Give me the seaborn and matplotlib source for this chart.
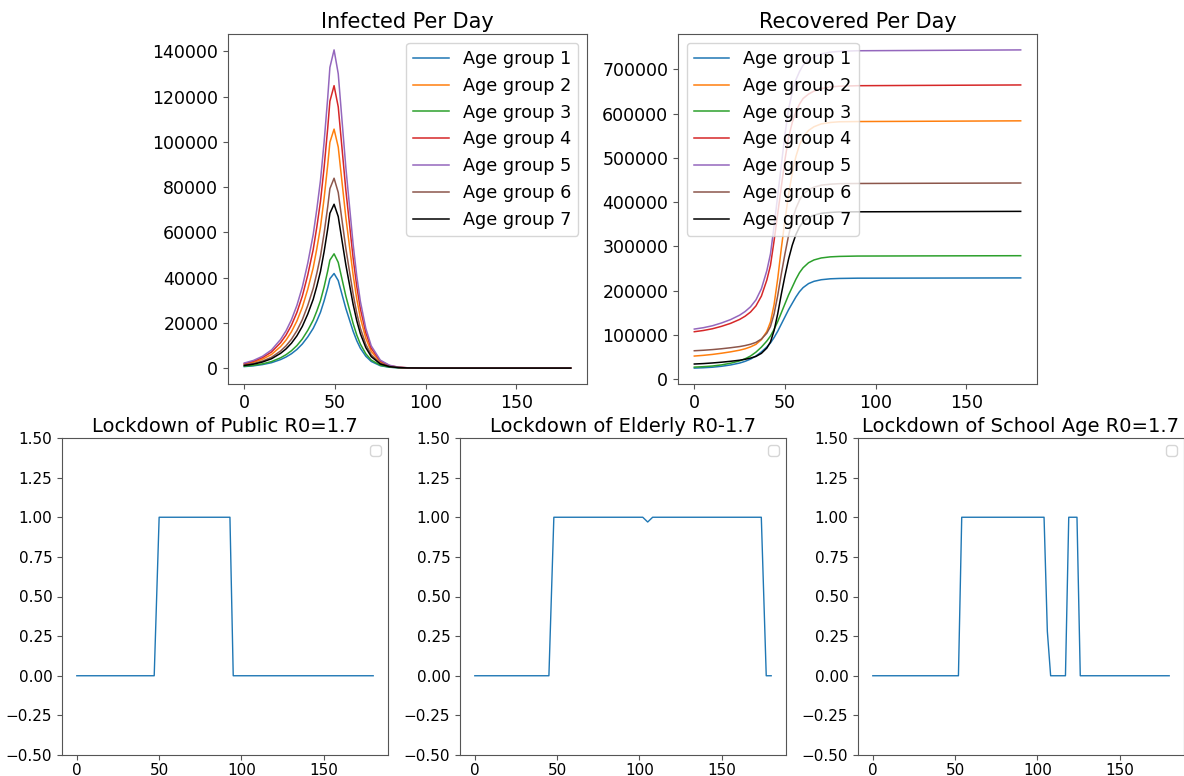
import matplotlib
matplotlib.use("Agg")
import matplotlib.pyplot as plt
import seaborn as sns

# ---------------- data ----------------
groups = ["Age group 1", "Age group 2", "Age group 3", "Age group 4",
          "Age group 5", "Age group 6", "Age group 7"]
colors = ["#1f77b4", "#ff7f0e", "#2ca02c", "#d62728", "#9467bd", "#8c564b", "black"]

inf_days = [0, 5, 10, 15, 20, 23, 26, 29, 32, 35, 38, 40, 42, 44, 46, 47.2, 49.5, 51.8,
            54, 56, 58, 60, 62, 64, 67, 70, 75, 80, 85, 90, 100, 120, 150, 180]
inf_g1 = [670, 1000, 1550, 2380, 3760, 4890, 6350, 8230, 10660, 13790, 17560, 20900, 24660,
          29680, 35530, 39500, 41800, 38670, 32190, 26330, 21320, 16300, 12120, 8780, 5230,
          2930, 1050, 380, 130, 40, 8, 0, 0, 0]
inf_g2 = [1690, 2530, 3910, 6020, 9500, 12360, 16050, 20800, 26930, 34850, 44350, 52800, 62300,
          74980, 89760, 99790, 105600, 97680, 81310, 66530, 53860, 41180, 30620, 22180, 13200,
          7390, 2640, 950, 320, 110, 20, 0, 0, 0]
inf_g3 = [810, 1210, 1870, 2880, 4550, 5910, 7680, 9950, 12880, 16670, 21210, 25250, 29800,
          35860, 42930, 47720, 50500, 46710, 38890, 31820, 25760, 19700, 14650, 10610, 6310,
          3540, 1260, 450, 150, 50, 10, 0, 0, 0]
inf_g4 = [2000, 3000, 4620, 7110, 11230, 14600, 18970, 24590, 31820, 41180, 52420, 62400, 73630,
          88610, 106080, 117940, 124800, 115440, 96100, 78620, 63650, 48670, 36190, 26210,
          15600, 8740, 3120, 1120, 370, 120, 25, 0, 0, 0]
inf_g5 = [2250, 3370, 5200, 8010, 12650, 16450, 21370, 27700, 35850, 46400, 59050, 70300, 82950,
          99830, 119510, 132870, 140600, 130060, 108260, 88580, 71710, 54830, 40770, 29530,
          17580, 9840, 3520, 1270, 420, 140, 30, 0, 0, 0]
inf_g6 = [1340, 2010, 3100, 4780, 7550, 9820, 12750, 16530, 21390, 27690, 35240, 41950, 49500,
          59570, 71320, 79290, 83900, 77610, 64600, 52860, 42790, 32720, 24330, 17620, 10490,
          5870, 2100, 760, 250, 80, 17, 0, 0, 0]
inf_g7 = [1160, 1740, 2680, 4130, 6520, 8470, 11000, 14260, 18460, 23890, 30410, 36200, 42720,
          51400, 61540, 68420, 72400, 66970, 55750, 45610, 36920, 28240, 21000, 15200, 9050,
          5070, 1810, 650, 220, 70, 14, 0, 0, 0]

rec_days = [0, 5, 10, 15, 20, 25, 28, 31, 34, 37, 40, 42, 44, 46, 48, 50, 52, 54, 56, 58,
            60, 63, 66, 70, 75, 80, 90, 120, 180]
rec_g1 = [24800, 25600, 26800, 28900, 31900, 36200, 40040, 45100, 52200, 61400, 72600, 81700,
          93900, 108100, 124400, 140600, 156900, 171100, 185300, 197500, 206700, 215800,
          220900, 224500, 226600, 227400, 228000, 228200, 228600]
rec_g2 = [52000, 53600, 55700, 58400, 61500, 65300, 68400, 72700, 78500, 89100, 107700,
          128900, 168600, 226900, 295800, 359400, 417700, 465400, 502500, 529000, 547600,
          561900, 570300, 576700, 579900, 581500, 582000, 582500, 583600]
rec_g3 = [27000, 28000, 29500, 32000, 35800, 41100, 45800, 52100, 60900, 72200, 86000, 97300,
          112300, 129900, 150000, 170100, 190200, 207700, 225300, 240400, 251600, 262900,
          269200, 273700, 276200, 277200, 278000, 278300, 278800]
rec_g4 = [107000, 109780, 113700, 119200, 125900, 134800, 142000, 151500, 165400, 187600,
          223800, 257100, 312700, 373900, 435000, 496200, 546200, 579600, 604600, 621300,
          634100, 644100, 650800, 656300, 660200, 661900, 663000, 663600, 664700]
rec_g5 = [113000, 116100, 120500, 126800, 134400, 144450, 152600, 163300, 179000, 204200,
          245100, 282800, 345700, 414900, 484100, 553300, 609900, 647700, 676000, 694800,
          709300, 720600, 728200, 734500, 738900, 740700, 742000, 742600, 743900]
rec_g6 = [64000, 65100, 66600, 68500, 70800, 73450, 75700, 78700, 82900, 90500, 103700,
          118800, 147200, 188700, 237900, 283200, 324800, 358800, 385300, 404200, 417400,
          427600, 433700, 438200, 440500, 441600, 442000, 442400, 443100]
rec_g7 = [34000, 35000, 36400, 38100, 40200, 42600, 44700, 47400, 51200, 58100, 70100, 83900,
          109700, 147500, 192200, 233500, 271400, 302300, 326400, 343600, 355600, 364900,
          370400, 374600, 376600, 377700, 378000, 378300, 379000]

public_days = [0, 47, 50, 93, 95, 180]
public_lock = [0, 0, 1, 1, 0, 0]
elderly_days = [0, 45, 48, 102, 105, 108, 174, 177, 180]
elderly_lock = [0, 0, 1, 1, 0.97, 1, 1, 0, 0]
school_days = [0, 52, 54, 104, 106, 108, 117, 119, 124, 126, 180]
school_lock = [0, 0, 1, 1, 0.28, 0, 0, 1, 1, 0, 0]

titles_top = ["Infected Per Day", "Recovered Per Day"]
titles_bottom = ["Lockdown of Public R0=1.7", "Lockdown of Elderly R0-1.7",
                 "Lockdown of School Age R0=1.7"]

inf_series = [inf_g1, inf_g2, inf_g3, inf_g4, inf_g5, inf_g6, inf_g7]
rec_series = [rec_g1, rec_g2, rec_g3, rec_g4, rec_g5, rec_g6, rec_g7]

# ---------------- figure ----------------
plt.rcParams['font.family'] = ['DejaVu Sans']
plt.rcParams['axes.edgecolor'] = '#555555'
plt.rcParams['xtick.color'] = '#555555'
plt.rcParams['ytick.color'] = '#555555'
plt.rcParams['xtick.labelcolor'] = 'black'
plt.rcParams['ytick.labelcolor'] = 'black'

W, H = 1184, 776
fig = plt.figure(figsize=(W / 100, H / 100), dpi=100)

def px_axes(l, t, r, b):
    return fig.add_axes([l / W, 1 - b / H, (r - l) / W, (b - t) / H])

ax_inf = px_axes(228, 34, 587, 384)
ax_rec = px_axes(678, 34, 1037, 384)
ax_b = [px_axes(62, 438, 388, 755), px_axes(460, 438, 786, 755), px_axes(858, 438, 1184, 755)]

for ser, name, c in zip(inf_series, groups, colors):
    sns.lineplot(x=inf_days, y=ser, ax=ax_inf, color=c, label=name, linewidth=1.1)
for ser, name, c in zip(rec_series, groups, colors):
    sns.lineplot(x=rec_days, y=ser, ax=ax_rec, color=c, label=name, linewidth=1.1)

for ax, t, loc in zip([ax_inf, ax_rec], titles_top, ["upper right", "upper left"]):
    ax.set_title(t, fontsize=15, pad=4)
    ax.tick_params(labelsize=12.5)
    ax.legend(loc=loc, fontsize=12.7)
    ax.set_xticks([0, 50, 100, 150])

lock_days = [public_days, elderly_days, school_days]
lock_vals = [public_lock, elderly_lock, school_lock]
for ax, d, v, t in zip(ax_b, lock_days, lock_vals, titles_bottom):
    sns.lineplot(x=d, y=v, ax=ax, color="#1f77b4", linewidth=1.0)
    ax.set_ylim(-0.5, 1.5)
    ax.set_yticks([-0.5, -0.25, 0, 0.25, 0.5, 0.75, 1.0, 1.25, 1.5])
    ax.set_xticks([0, 50, 100, 150])
    ax.set_title(t, fontsize=14, pad=4)
    ax.tick_params(labelsize=11)
    ax.tick_params(axis='x', pad=2)
    ax.legend(loc="upper right")

fig.savefig("out.png", dpi=100)
